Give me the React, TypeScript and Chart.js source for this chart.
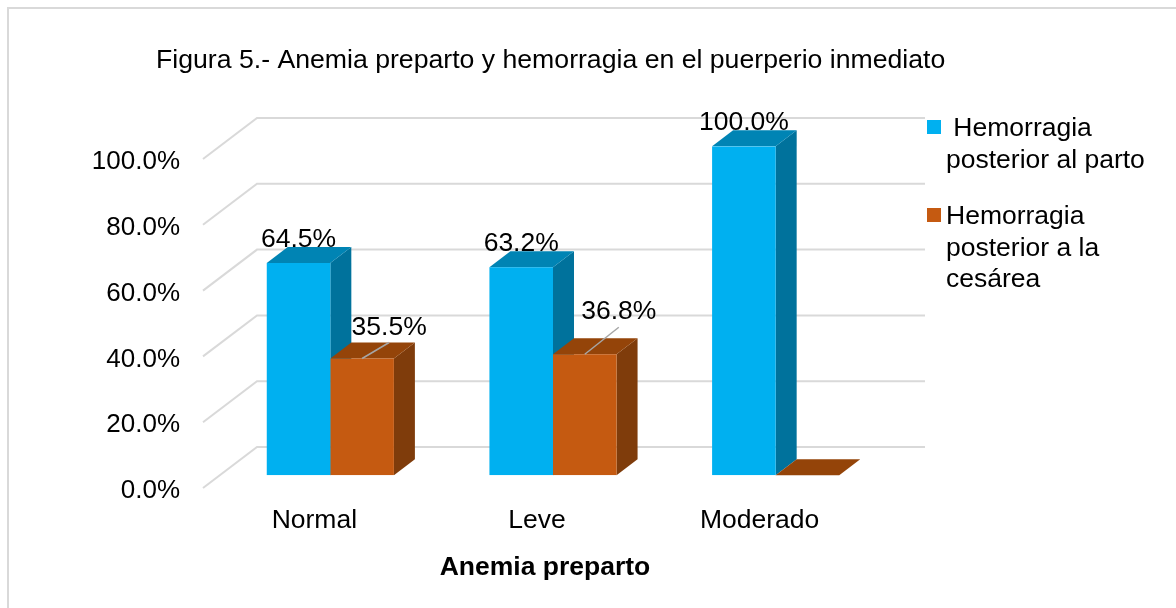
import React, { useEffect, useRef } from "react";
import { Chart, registerables } from "chart.js";

Chart.register(...registerables);

const categories = ["Normal", "Leve", "Moderado"];
const partoValues = [64.5, 63.2, 100.0];
const cesareaValues = [35.5, 36.8, 0];
const partoLegend = [" Hemorragia", "posterior al parto"];
const cesareaLegend = ["Hemorragia", "posterior a la", "cesárea"];
const chartTitle = "Figura 5.- Anemia preparto y hemorragia en el puerperio inmediato";
const xAxisTitle = "Anemia preparto";

const FONT = '"Liberation Sans", Arial, sans-serif';
const FS = 26.5;
const TITLE_FS = 26.65;
const TICK_FS = 26;
const BAR_SHIFT = { x: 16, y: -15.7 };
const DEPTH = { x: 21, y: -16 };
const WALL = { x: 54, y: -41 };
const WALL_FRONT_DY = -3;
const GRID_RIGHT = 925;

const palette = [
  { front: "#00B0F0", top: "#0084B4", side: "#00729C" },
  { front: "#C55A11", top: "#944409", side: "#7F3C0B" },
];
// label centre offset from the bar's front-top centre
const labelOffset = [
  [{ x: 0, y: -23 }, { x: 0, y: -24 }, { x: 0, y: -24 }],
  [{ x: 27, y: -31 }, { x: 34, y: -43 }, null],
];
const leaders = [
  { x: 27, y: -16 },
  { x: 34, y: -27 },
];

const render3d = {
  id: "render3d",
  beforeDatasetsDraw(chart: any) {
    const { ctx } = chart;
    const yScale = chart.scales.y;
    const xScale = chart.scales.x;
    ctx.save();
    // back wall and floor grid
    ctx.strokeStyle = "#D9D9D9";
    ctx.lineWidth = 2;
    yScale.ticks.forEach((t: any) => {
      const y = yScale.getPixelForValue(t.value) + WALL_FRONT_DY;
      ctx.beginPath();
      ctx.moveTo(xScale.left, y);
      ctx.lineTo(xScale.left + WALL.x, y + WALL.y);
      ctx.lineTo(GRID_RIGHT, y + WALL.y);
      ctx.stroke();
    });
    ctx.restore();
    ctx.save();
    ctx.translate(BAR_SHIFT.x, BAR_SHIFT.y);
    [0, 1].forEach((di) => {
      const c = palette[di];
      chart.getDatasetMeta(di).data.forEach((bar: any) => {
        const { x, y, base, width } = bar.getProps(["x", "y", "base", "width"], true);
        const l = x - width / 2;
        const r = x + width / 2;
        ctx.fillStyle = c.side;
        ctx.beginPath();
        ctx.moveTo(r, y);
        ctx.lineTo(r + DEPTH.x, y + DEPTH.y);
        ctx.lineTo(r + DEPTH.x, base + DEPTH.y);
        ctx.lineTo(r, base);
        ctx.closePath();
        ctx.fill();
        ctx.fillStyle = c.top;
        ctx.beginPath();
        ctx.moveTo(l, y);
        ctx.lineTo(l + DEPTH.x, y + DEPTH.y);
        ctx.lineTo(r + DEPTH.x, y + DEPTH.y);
        ctx.lineTo(r, y);
        ctx.closePath();
        ctx.fill();
      });
    });
  },
  afterDatasetsDraw(chart: any) {
    const { ctx } = chart;
    ctx.restore();
    ctx.save();
    ctx.font = `${FS}px ${FONT}`;
    ctx.textAlign = "center";
    ctx.textBaseline = "middle";
    [partoValues, cesareaValues].forEach((vals, di) => {
      const bars = chart.getDatasetMeta(di).data;
      vals.forEach((v, i) => {
        const off = labelOffset[di][i];
        if (!off) return;
        const bar = bars[i];
        const x = bar.x + BAR_SHIFT.x;
        const y = bar.y + BAR_SHIFT.y;
        if (di === 1) {
          const L = leaders[i];
          ctx.strokeStyle = "#A6A6A6";
          ctx.lineWidth = 1.5;
          ctx.beginPath();
          ctx.moveTo(x, y);
          ctx.lineTo(x + L.x, y + L.y);
          ctx.stroke();
        }
        ctx.fillStyle = "#000000";
        ctx.fillText(`${v.toFixed(1)}%`, x + off.x, y + off.y);
      });
    });
    ctx.restore();
  },
  afterDraw(chart: any) {
    const { ctx } = chart;
    ctx.save();
    ctx.fillStyle = "#000000";
    ctx.textBaseline = "middle";
    ctx.textAlign = "left";
    ctx.font = `${TITLE_FS}px ${FONT}`;
    ctx.fillText(chartTitle, 156, 61);
    ctx.font = `${FS}px ${FONT}`;
    const items = [
      { lines: partoLegend, color: palette[0].front, boxY: 120, textY: 129 },
      { lines: cesareaLegend, color: palette[1].front, boxY: 208, textY: 217 },
    ];
    items.forEach((it) => {
      ctx.fillStyle = it.color;
      ctx.fillRect(927, it.boxY, 14, 14);
      ctx.fillStyle = "#000000";
      it.lines.forEach((line, k) => ctx.fillText(line, 946, it.textY + k * 31.2));
    });
    ctx.font = `bold ${FS}px ${FONT}`;
    ctx.textAlign = "center";
    ctx.fillText(xAxisTitle, 545, 568);
    ctx.restore();
  },
};

const frame = {
  id: "frame",
  beforeDraw(chart: any) {
    const { ctx } = chart;
    ctx.save();
    ctx.fillStyle = "#FFFFFF";
    ctx.fillRect(0, 0, chart.width, chart.height);
    ctx.strokeStyle = "#D9D9D9";
    ctx.lineWidth = 2;
    ctx.beginPath();
    ctx.moveTo(8, chart.height);
    ctx.lineTo(8, 8);
    ctx.lineTo(chart.width, 8);
    ctx.stroke();
    ctx.restore();
  },
};

export default function App() {
  const ref = useRef<HTMLCanvasElement>(null);
  useEffect(() => {
    document.body.style.margin = "0";
    const chart = new Chart(ref.current as HTMLCanvasElement, {
      type: "bar",
      data: {
        labels: categories,
        datasets: [
          { label: partoLegend.join(" ").trim(), data: partoValues, backgroundColor: palette[0].front, borderWidth: 0 },
          { label: cesareaLegend.join(" "), data: cesareaValues, backgroundColor: palette[1].front, borderWidth: 0 },
        ],
      },
      options: {
        responsive: false,
        animation: false,
        layout: { padding: { top: 162, right: 305, bottom: 0, left: 0 } },
        datasets: { bar: { categoryPercentage: 0.571, barPercentage: 1 } },
        plugins: { legend: { display: false }, title: { display: false }, tooltip: { enabled: false } },
        scales: {
          x: {
            grid: { display: false },
            border: { display: false },
            ticks: { color: "#000000", font: { family: FONT, size: FS }, padding: 6, maxRotation: 0, autoSkip: false },
            afterFit: (s: any) => { s.height = 117; },
          },
          y: {
            min: 0,
            max: 100,
            grid: { display: false },
            border: { display: false },
            afterFit: (s: any) => { s.width = 203; },
            ticks: {
              stepSize: 20,
              color: "#000000",
              padding: 15,
              font: { family: FONT, size: TICK_FS },
              callback: (v: any) => `${Number(v).toFixed(1)}%`,
            },
          },
        },
      },
      plugins: [frame, render3d],
    } as any);
    return () => chart.destroy();
  }, []);
  return <canvas ref={ref} width={1176} height={608} style={{ display: "block" }} />;
}
